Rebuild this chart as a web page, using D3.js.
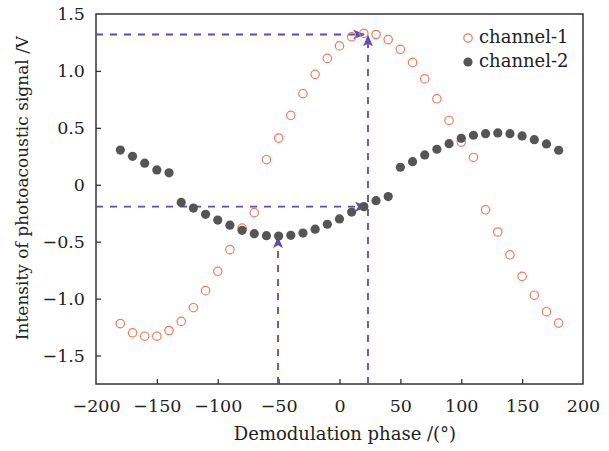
<!DOCTYPE html>
<html><head><meta charset="utf-8">
<script src="https://cdn.jsdelivr.net/npm/d3@7"></script>
<style>body{margin:0;background:#fff}svg{display:block}</style>
</head><body>
<svg id="c" width="609" height="451"></svg>
<script>
const phases = [-180,-170,-160,-150,-140,-130,-120,-110,-100,-90,-80,-70,-60,-50,-40,-30,-20,-10,0,10,20,30,40,50,60,70,80,90,100,110,120,130,140,150,160,170,180];
const channel1 = [-1.22,-1.30,-1.33,-1.33,-1.28,-1.20,-1.08,-0.93,-0.76,-0.57,-0.38,-0.245,0.22,0.41,0.61,0.80,0.97,1.11,1.22,1.30,1.33,1.32,1.275,1.19,1.075,0.93,0.755,0.565,0.375,0.24,-0.22,-0.415,-0.615,-0.805,-0.97,-1.115,-1.215];
const channel2 = [0.305,0.25,0.19,0.13,0.105,-0.155,-0.205,-0.26,-0.31,-0.355,-0.40,-0.43,-0.447,-0.45,-0.444,-0.424,-0.39,-0.347,-0.30,-0.24,-0.192,-0.14,-0.104,0.154,0.203,0.262,0.312,0.361,0.408,0.435,0.449,0.455,0.449,0.429,0.396,0.359,0.303];
const xTicks = [-200,-150,-100,-50,0,50,100,150,200];
const yTicks = [-1.5,-1.0,-0.5,0,0.5,1.0,1.5];
const seriesNames = ["channel-1","channel-2"];
// annotation guides: [phase, value]
const guideA = [23.4, 1.32];
const guideB = [21.8, -0.192];
const guideC = [-50.5, -0.46];

const svg = d3.select("#c");
const L=96, R=583, T=14, B=384;
const x = d3.scaleLinear().domain([-200,200]).range([L,R]);
const y = d3.scaleLinear().domain([-1.75,1.5]).range([B,T]);
const font = "'DejaVu Serif', serif";
const minus = s => s.replace("-", "\u2212");
const purple = "#5a4cb4", orange = "#f47a5a", dark = "#555555";

// frame
svg.append("rect").attr("x",L).attr("y",T).attr("width",R-L).attr("height",B-T)
  .attr("fill","none").attr("stroke","#333").attr("stroke-width",1.5);

const xAxis = d3.axisBottom(x).tickValues(xTicks).tickSizeInner(-5).tickSizeOuter(0).tickPadding(16)
  .tickFormat(d => minus(String(d)));
const gx = svg.append("g").attr("transform",`translate(0,${B})`).call(xAxis);
const yAxis = d3.axisLeft(y).tickValues(yTicks).tickSizeInner(-5).tickSizeOuter(0).tickPadding(11)
  .tickFormat(d => minus(d===0 ? "0" : d3.format(".1f")(d)));
const gy = svg.append("g").attr("transform",`translate(${L},0)`).call(yAxis);
[gx,gy].forEach(g=>{
  g.select(".domain").remove();
  g.selectAll(".tick line").attr("stroke","#333").attr("stroke-width",1.3);
  g.selectAll(".tick text").attr("font-family",font).attr("font-size",17.5).attr("fill","#222");
});
gx.selectAll(".tick").filter(d=>d===-200||d===200).select("line").remove();
gy.selectAll(".tick").filter(d=>d===1.5).select("line").remove();

// axis titles
svg.append("text").attr("x",345).attr("y",440).attr("text-anchor","middle")
  .attr("font-family",font).attr("font-size",18).attr("fill","#222").text("Demodulation phase /(°)");
svg.append("text").attr("transform",`translate(28,188) rotate(-90)`).attr("text-anchor","middle")
  .attr("font-family",font).attr("font-size",17).attr("fill","#222").text("Intensity of photoacoustic signal /V");

// arrow marker
const defs = svg.append("defs");
defs.append("marker").attr("id","arr").attr("viewBox","0 0 12 10").attr("refX",11).attr("refY",5)
  .attr("markerWidth",12).attr("markerHeight",10).attr("markerUnits","userSpaceOnUse").attr("orient","auto")
  .append("path").attr("d","M0,0 L12,5 L0,10 L3,5 Z").attr("fill",purple);

const guide = (x1,y1,x2,y2) => svg.append("line").attr("x1",x1).attr("y1",y1).attr("x2",x2).attr("y2",y2)
  .attr("stroke",purple).attr("stroke-width",1.8).attr("stroke-dasharray","7,7").attr("marker-end","url(#arr)");
guide(L, y(guideA[1]), x(guideA[0])-4, y(guideA[1]));
guide(x(guideA[0]), B, x(guideA[0]), y(guideA[1])+1);
guide(L, y(guideB[1]), x(guideB[0]), y(guideB[1]));
guide(x(guideC[0]), B, x(guideC[0]), y(guideC[1]));

// points
svg.append("g").selectAll("circle").data(phases).join("circle")
  .attr("cx",d=>x(d)).attr("cy",(d,i)=>y(channel1[i])).attr("r",4.2)
  .attr("fill","none").attr("stroke",orange).attr("stroke-width",1.2);
svg.append("g").selectAll("circle").data(phases).join("circle")
  .attr("cx",d=>x(d)).attr("cy",(d,i)=>y(channel2[i])).attr("r",4.6).attr("fill",dark);

// legend
const lg = svg.append("g");
lg.append("circle").attr("cx",468).attr("cy",38).attr("r",4.2).attr("fill","none").attr("stroke",orange).attr("stroke-width",1.2);
lg.append("circle").attr("cx",468).attr("cy",62).attr("r",4.6).attr("fill",dark);
lg.selectAll("text").data(seriesNames).join("text").attr("x",479).attr("y",(d,i)=>43+i*24)
  .attr("font-family",font).attr("font-size",18).attr("fill","#222").text(d=>d);
</script>
</body></html>
